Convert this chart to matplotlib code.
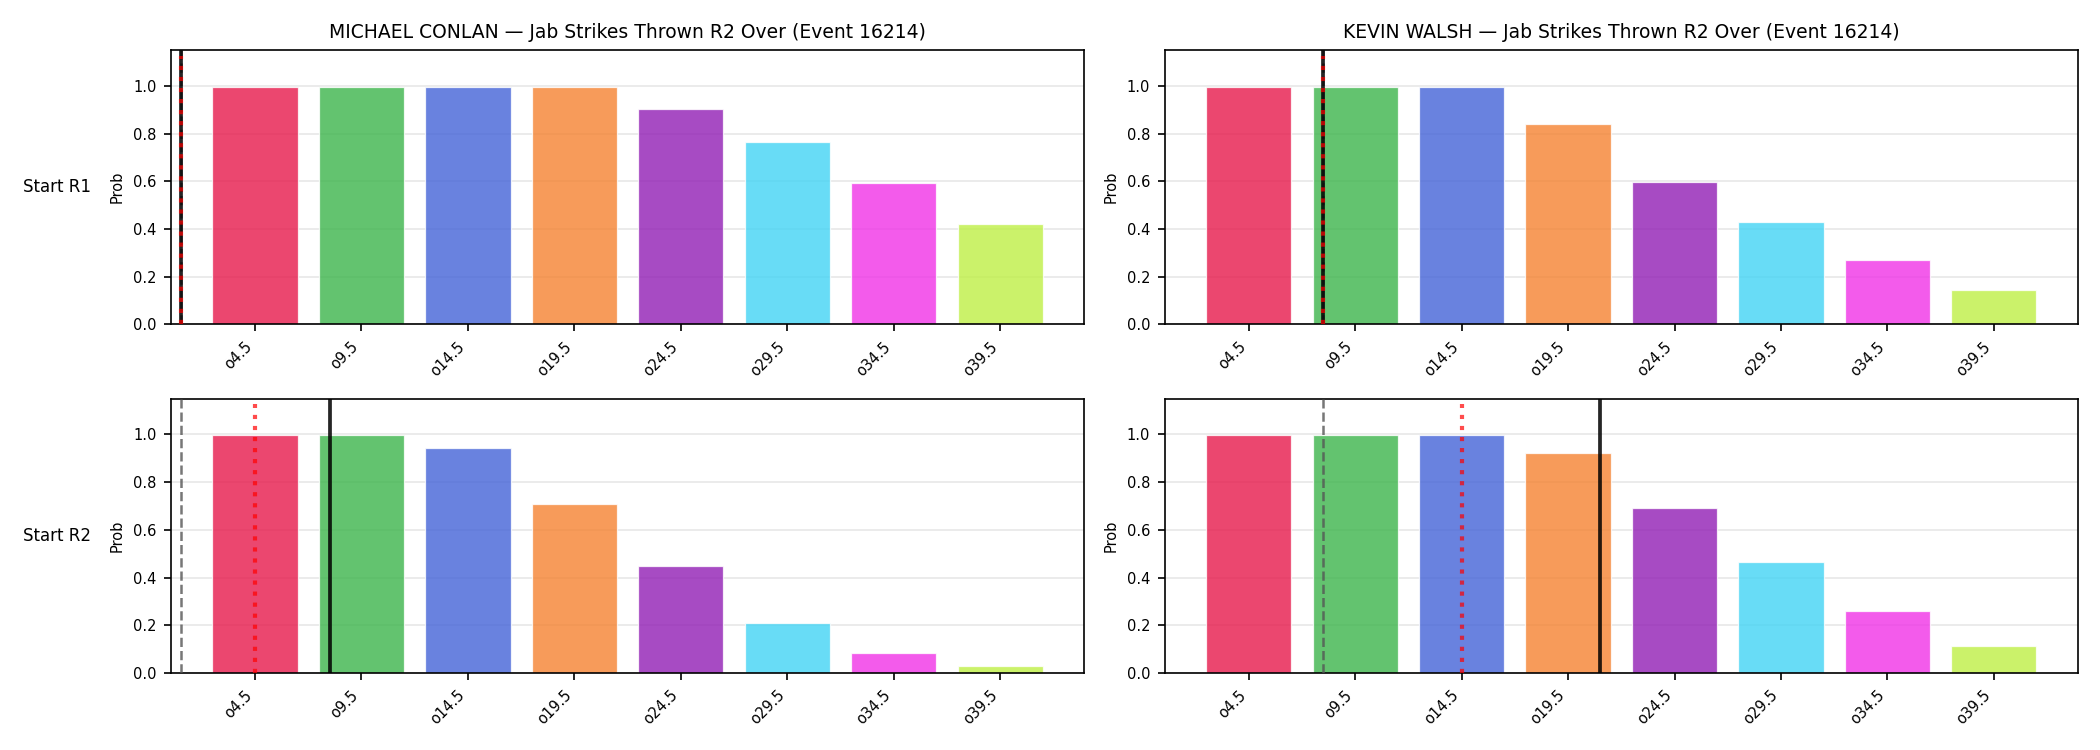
import numpy as np
import matplotlib
matplotlib.use('Agg')
import matplotlib.pyplot as plt

# Over lines and bar colours
thresholds = [4.5, 9.5, 14.5, 19.5, 24.5, 29.5, 34.5, 39.5]
tick_labels = ['o4.5', 'o9.5', 'o14.5', 'o19.5', 'o24.5', 'o29.5', 'o34.5', 'o39.5']
bar_colors = ['#e6194b', '#3cb44b', '#4363d8', '#f58231',
              '#911eb4', '#42d4f4', '#f032e6', '#bfef45']

fighters = ['MICHAEL CONLAN', 'KEVIN WALSH']
row_labels = ['Start R1', 'Start R2']

# P(over) per line
conlan_r1 = [0.997, 0.997, 0.997, 0.997, 0.903, 0.764, 0.591, 0.422]
walsh_r1 = [0.997, 0.997, 0.997, 0.842, 0.599, 0.430, 0.270, 0.143]
conlan_r2 = [0.997, 0.997, 0.942, 0.708, 0.447, 0.209, 0.082, 0.031]
walsh_r2 = [0.997, 0.997, 0.997, 0.920, 0.691, 0.463, 0.260, 0.111]

# marker values in strikes: (grey dashed, red dotted, black solid)
conlan_r1_marks = [1, 1, 1]
walsh_r1_marks = [8, 8, 8]
conlan_r2_marks = [1, 4.5, 8]
walsh_r2_marks = [8, 14.5, 21]

probs = [[conlan_r1, walsh_r1], [conlan_r2, walsh_r2]]
marks = [[conlan_r1_marks, walsh_r1_marks], [conlan_r2_marks, walsh_r2_marks]]


def to_index(v):
    # map a strike count onto the categorical x positions
    step = thresholds[1] - thresholds[0]
    return (v - thresholds[0]) / step


fig, axes = plt.subplots(2, 2, figsize=(14, 5), dpi=150)
fig.subplots_adjust(left=0.0814, right=0.9895, bottom=0.1027, top=0.9333,
                    wspace=0.088, hspace=0.27)

x = np.arange(len(thresholds))
for r in range(2):
    for c in range(2):
        ax = axes[r][c]
        ax.bar(x, probs[r][c], width=0.8, color=bar_colors, alpha=0.8,
               edgecolor='white', linewidth=0.6, zorder=2)
        grey_v, red_v, black_v = marks[r][c]
        ax.axvline(to_index(grey_v), color='#555555', linestyle='--', linewidth=1.2, alpha=0.8, zorder=3)
        ax.axvline(to_index(black_v), color='black', linestyle='-', linewidth=1.8, alpha=0.85, zorder=3)
        ax.axvline(to_index(red_v), ymax=0.98, color='red', linestyle=':', linewidth=2, alpha=0.7, zorder=4)
        ax.set_xlim(-0.79, 7.79)
        ax.set_ylim(0, 1.15)
        ax.set_xticks(x)
        ax.set_xticklabels(tick_labels, rotation=45, ha='right', fontsize=7)
        ax.tick_params(axis='y', labelsize=7)
        ax.set_ylabel('Prob', fontsize=7)
        ax.grid(axis='y', alpha=0.3, zorder=0)
        ax.set_axisbelow(True)
        if r == 0:
            ax.set_title(f'{fighters[c]} \u2014 Jab Strikes Thrown R2 Over (Event 16214)', fontsize=9)

for r in range(2):
    pos = axes[r][0].get_position()
    fig.text(23 / 2100, (pos.y0 + pos.y1) / 2, row_labels[r], ha='left', va='center', fontsize=8)

plt.savefig('out.png', dpi=150)
